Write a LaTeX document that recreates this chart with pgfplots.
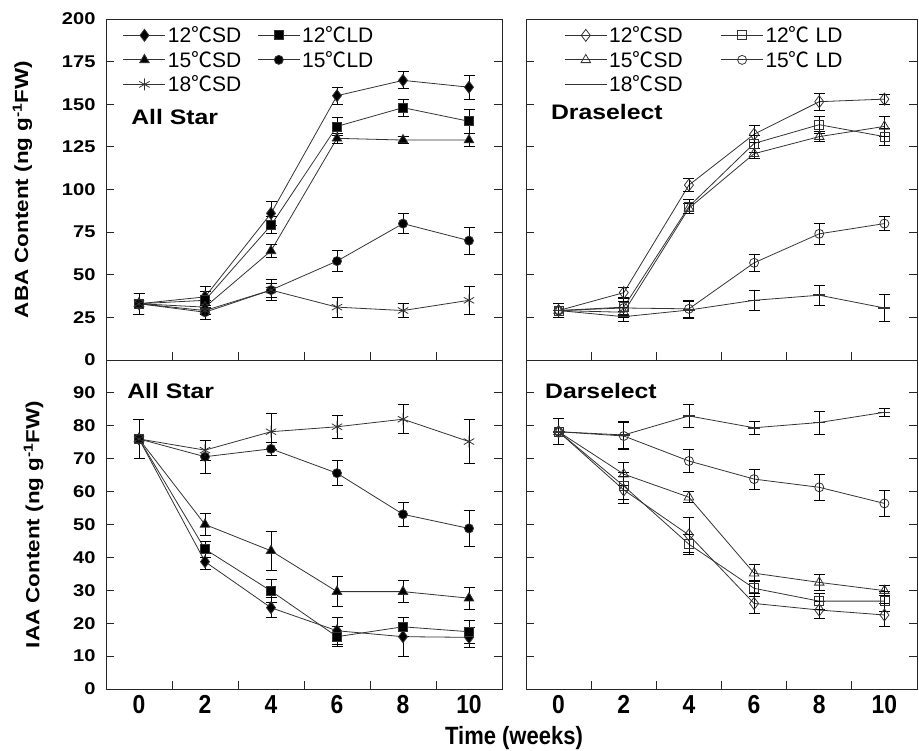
\documentclass[border=0pt]{standalone}
\usepackage{fontspec}
\setmainfont{Liberation Sans}
\newfontfamily\wide{Liberation Sans}[FakeStretch=1.18]
\newfontfamily\narrow{Liberation Sans}[FakeStretch=0.88]
\newfontfamily\cjk{Noto Sans CJK SC}
\usepackage{pgfplots}
\usepackage{pgfplotstable}
\pgfplotsset{compat=1.18}
\newcommand{\dC}{{\cjk ℃}}

% columns: a=12SD, b=12LD, c=15SD, d=15LD, f=18SD ; e* = error
\pgfplotstableread{
w a ea b eb c ec d ed f ef
0 33 6 33 6 33 6 33 6 33 6
2 37 6 35 5 31 4 28 4 29 5
4 86 7 79 5 64 4 41 6 41 4
6 155 5 137 5 130 3 58 6 31 6
8 164 5 148 5 129 2 80 6 29 4
10 160 7 140 7 129 4 70 8 35 8
}\ABAas
\pgfplotstableread{
w a ea b eb c ec d ed f ef
0 29 4 29 4 29 4 29 4 29 4
2 39.5 3 31 5 28 3 30.5 4 25.4 3
4 102.6 4 90 4 89 3 30 5 29.3 5
6 132.4 5 127 5 121 3 57 5 35 6
8 151.5 5 138 5 131 3 74 6 38 6
10 153 3 131 5 137 6 80 4 30.5 8
}\ABAdr
\pgfplotstableread{
w a ea b eb c ec d ed f ef
0 76 6 76 6 76 6 76 6 76 6
2 38.7 2.5 42.5 2.5 50 3.4 70.6 5 72.6 3
4 24.7 3 29.8 3.5 42 6 73 2 78.2 5.5
6 17.7 4 15.9 3 29.6 4.6 65.6 3.8 79.7 3.6
8 15.9 6 18.9 3 29.6 3.4 53.1 3.7 82 4.4
10 15.7 3 17.4 3.4 27.6 3.4 48.8 5.6 75.2 6.6
}\IAAas
\pgfplotstableread{
w a ea b eb c ec d ed f ef
0 78.2 4 78.2 4 78.2 4 78.2 4 78.2 4
2 60.5 4 61.7 4 65.3 3.5 76.9 4 77.2 4
4 46.8 5.3 44 3 58.3 1.7 69.3 3.5 83 3.6
6 26 3 30.6 2.5 35.2 2.6 63.8 3 79.4 2
8 24 2.5 26.7 2.5 32.4 2.5 61.3 4 81 3.5
10 22.5 3.5 26.7 3 29.9 1.5 56.4 4 84.1 1.3
}\IAAdr

\pgfplotsset{
  panel/.style={
    scale only axis,
    xmin=-1, xmax=11,
    xtick={0,2,...,10},
    minor xtick={1,3,...,9},
    major x tick style={draw=none},
    minor tick length=8pt, major tick length=8pt,
    tick align=inside,
    xtick pos=left, ytick pos=both,
    axis line style={black!85, line width=0.9pt},
    tick style={black!85, line width=0.8pt},
    /pgf/number format/assume math mode=true,
    xticklabel style={font=\narrow\bfseries\fontsize{26}{26}\selectfont, yshift=-3pt},
    yticklabel style={font=\wide\bfseries\fontsize{17}{17}\selectfont, xshift=-7pt},
    ylabel style={font=\wide\bfseries\fontsize{19}{19}\selectfont},
    ylabel shift=23pt,
    legend columns=2,
    legend cell align=left,
    legend style={draw=none, fill=none, anchor=north west,
      font=\fontsize{21}{21}\selectfont, row sep=3pt,
      nodes={inner sep=2pt}},
    legend image code/.code={\draw[mark repeat=2,mark phase=2,##1] plot coordinates {(0pt,0pt) (21pt,0pt) (42pt,0pt)};},
  },
  ser/.style={black!80, line width=0.8pt, mark options={solid, line width=0.8pt},
    error bars/y dir=both, error bars/y explicit,
    error bars/error mark options={black, rotate=90, mark size=5.5pt, line width=0.8pt},
    error bars/error bar style={black, line width=0.8pt}},
}

\begin{document}
\begin{tikzpicture}
\path[use as bounding box] (0pt,0pt) rectangle (919pt,751pt);

% ---------- top left: ABA All Star
\begin{axis}[panel, at={(106pt,391pt)}, width=396pt, height=341pt,
  ymin=0, ymax=200, ytick={0,25,...,200}, xticklabels={},
  ylabel={ABA Content (ng g\textsuperscript{-1}FW)},
  legend style={at={(0.035,0.99)}, /tikz/column 2/.style={column sep=14pt}}]
\addplot[ser, mark=diamond*, mark size=6pt, mark options={fill=black}] table[x=w,y=a,y error=ea]{\ABAas};
\addlegendentry{12\dC SD}
\addplot[ser, mark=square*, mark size=4.5pt, mark options={fill=black}] table[x=w,y=b,y error=eb]{\ABAas};
\addlegendentry{12\dC LD}
\addplot[ser, mark=triangle*, mark size=5.5pt, mark options={fill=black}] table[x=w,y=c,y error=ec]{\ABAas};
\addlegendentry{15\dC SD}
\addplot[ser, mark=*, mark size=4.5pt, mark options={fill=black}] table[x=w,y=d,y error=ed]{\ABAas};
\addlegendentry{15\dC LD}
\addplot[ser, mark=asterisk, mark size=6pt] table[x=w,y=f,y error=ef]{\ABAas};
\addlegendentry{18\dC SD}
\node[anchor=west, font=\wide\bfseries\fontsize{21}{21}\selectfont] at (rel axis cs:0.055,0.713) {All Star};
\end{axis}

% ---------- top right: ABA Draselect
\begin{axis}[panel, at={(526pt,391pt)}, width=391pt, height=341pt,
  ymin=0, ymax=200, ytick={0,25,...,200}, xticklabels={}, yticklabels={},
  legend style={at={(0.09,0.99)}, /tikz/column 2/.style={column sep=36pt}}]
\addplot[ser, mark=diamond, mark size=6pt, mark options={fill=white}] table[x=w,y=a,y error=ea]{\ABAdr};
\addlegendentry{12\dC SD}
\addplot[ser, mark=square, mark size=4.5pt, mark options={fill=white}] table[x=w,y=b,y error=eb]{\ABAdr};
\addlegendentry{12\dC\ LD}
\addplot[ser, mark=triangle, mark size=5.5pt, mark options={fill=white}] table[x=w,y=c,y error=ec]{\ABAdr};
\addlegendentry{15\dC SD}
\addplot[ser, mark=o, mark size=4.5pt, mark options={fill=white}] table[x=w,y=d,y error=ed]{\ABAdr};
\addlegendentry{15\dC\ LD}
\addplot[ser, mark=-, mark size=6pt, mark options={line width=1.6pt}] table[x=w,y=f,y error=ef]{\ABAdr};
\addlegendentry{18\dC SD}
\node[anchor=west, font=\wide\bfseries\fontsize{21}{21}\selectfont] at (rel axis cs:0.055,0.728) {Draselect};
\end{axis}

% ---------- bottom left: IAA All Star
\begin{axis}[panel, at={(106pt,62pt)}, width=396pt, height=329pt,
  ymin=0, ymax=100, ytick={0,10,...,90},
  ylabel={IAA Content (ng g\textsuperscript{-1}FW)}]
\addplot[ser, mark=diamond*, mark size=6pt, mark options={fill=black}] table[x=w,y=a,y error=ea]{\IAAas};
\addplot[ser, mark=square*, mark size=4.5pt, mark options={fill=black}] table[x=w,y=b,y error=eb]{\IAAas};
\addplot[ser, mark=triangle*, mark size=5.5pt, mark options={fill=black}] table[x=w,y=c,y error=ec]{\IAAas};
\addplot[ser, mark=*, mark size=4.5pt, mark options={fill=black}] table[x=w,y=d,y error=ed]{\IAAas};
\addplot[ser, mark=asterisk, mark size=6pt] table[x=w,y=f,y error=ef]{\IAAas};
\node[anchor=west, font=\wide\bfseries\fontsize{21}{21}\selectfont] at (rel axis cs:0.045,0.906) {All Star};
\end{axis}

% ---------- bottom right: IAA Darselect
\begin{axis}[panel, at={(526pt,62pt)}, width=391pt, height=329pt,
  ymin=0, ymax=100, ytick={0,10,...,90}, yticklabels={}]
\addplot[ser, mark=diamond, mark size=6pt, mark options={fill=white}] table[x=w,y=a,y error=ea]{\IAAdr};
\addplot[ser, mark=square, mark size=4.5pt, mark options={fill=white}] table[x=w,y=b,y error=eb]{\IAAdr};
\addplot[ser, mark=triangle, mark size=5.5pt, mark options={fill=white}] table[x=w,y=c,y error=ec]{\IAAdr};
\addplot[ser, mark=o, mark size=4.5pt, mark options={fill=white}] table[x=w,y=d,y error=ed]{\IAAdr};
\addplot[ser, mark=-, mark size=6pt, mark options={line width=1.6pt}] table[x=w,y=f,y error=ef]{\IAAdr};
\node[anchor=west, font=\wide\bfseries\fontsize{21}{21}\selectfont] at (rel axis cs:0.04,0.906) {Darselect};
\end{axis}

\node[font=\narrow\bfseries\fontsize{25}{25}\selectfont] at (514pt,13pt) {Time (weeks)};
\end{tikzpicture}
\end{document}
